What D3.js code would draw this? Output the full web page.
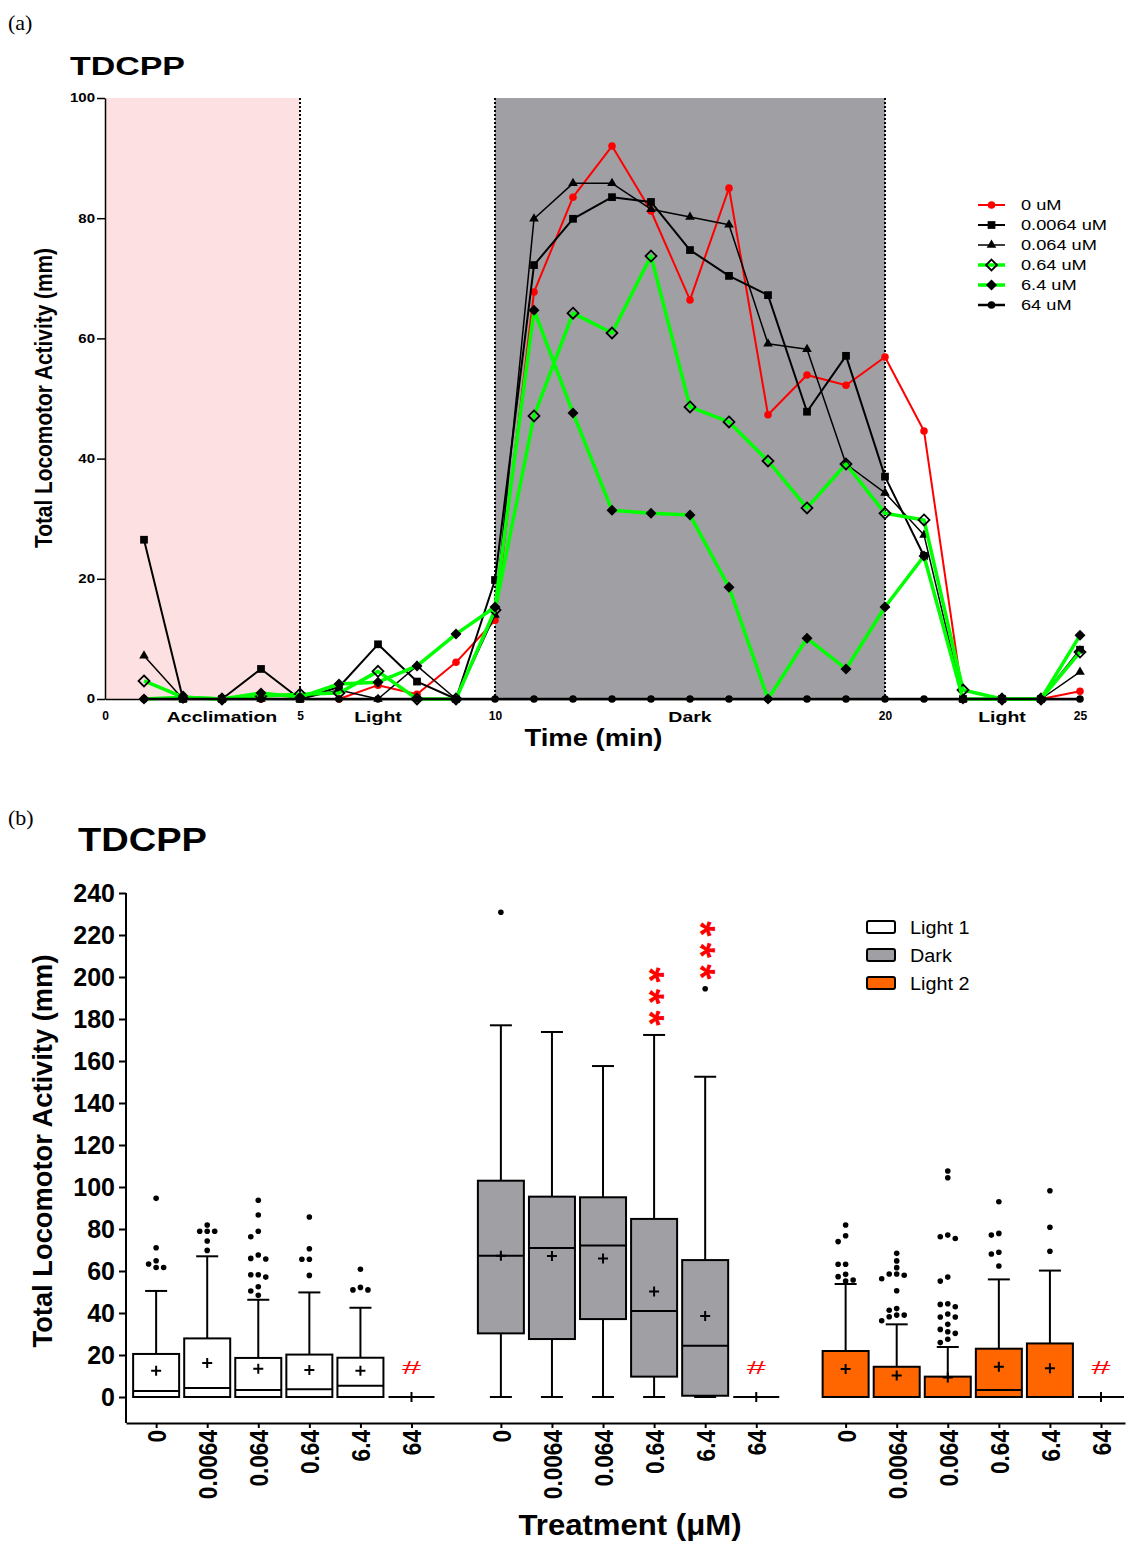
<!DOCTYPE html>
<html>
<head>
<meta charset="utf-8">
<script src="https://d3js.org/d3.v7.min.js"></script>
<style>
    body { margin: 0; background: white; }
    svg { font-family: "Liberation Sans", Arial, sans-serif; }
</style>
</head>
<body>
<div id="chart"></div>
<script>
    // ---------- panel (a): activity per minute ----------
    var minutes = [1, 2, 3, 4, 5, 6, 7, 8, 9, 10, 11, 12, 13, 14, 15, 16, 17, 18, 19, 20, 21, 22, 23, 24, 25];
    var act0uM = [0, 0, 0, 0, 0, 0, 2.3, 0.8, 6.1, 13.1, 67.7, 83.5, 92.0, 81.2, 66.4, 85.0, 47.3, 53.9, 52.2, 56.9, 44.6, 0, 0, 0, 1.3];
    var act00064uM = [26.5, 0, 0, 5.0, 0, 2.0, 9.1, 2.9, 0, 19.8, 72.2, 79.9, 83.5, 82.7, 74.7, 70.4, 67.2, 47.8, 57.1, 37.0, 23.8, 0, 0, 0, 8.2];
    var act0064uM = [7.2, 0, 0, 0, 0, 1.5, 0, 5.5, 0, 14.0, 79.9, 85.8, 85.8, 81.5, 80.2, 78.9, 59.1, 58.2, 39.1, 34.3, 27.3, 0, 0, 0, 4.5];
    var act064uM = [3.0, 0.3, 0, 0.5, 0.8, 1.0, 4.6, 0, 0, 14.8, 47.1, 64.2, 60.9, 73.7, 48.6, 46.1, 39.6, 31.8, 39.1, 30.9, 29.8, 1.5, 0, 0, 7.8];
    var act64uM = [0, 0.3, 0, 1.0, 0.3, 2.5, 2.8, 5.5, 10.8, 15.3, 64.7, 47.6, 31.4, 30.9, 30.6, 18.6, 0, 10.1, 5.0, 15.3, 23.8, 0, 0, 0, 10.6];
    var act640uM = [0, 0, 0, 0, 0, 0, 0, 0, 0, 0, 0, 0, 0, 0, 0, 0, 0, 0, 0, 0, 0, 0, 0, 0, 0];
    var seriesNames = ["0 uM", "0.0064 uM", "0.064 uM", "0.64 uM", "6.4 uM", "64 uM"];
    var phaseNames = ["Acclimation", "Light", "Dark", "Light"];
    var phaseLabelAt = [3, 7, 15, 23];
    var timeTicks = [0, 5, 10, 20, 25];
    var activityTicks = [0, 20, 40, 60, 80, 100];

    // ---------- panel (b): box plots ----------
    var treatments = ["0", "0.0064", "0.064", "0.64", "6.4", "64"];
    var periods = ["Light 1", "Dark", "Light 2"];
    // rows: [min, q1, median, q3, max, mean]
    var boxLight1 = [[0, 0, 2.9, 20.5, 50.5, 12.5], [0, 0, 4.3, 27.9, 67.0, 16.2], [0, 0, 3.3, 18.6, 46.3, 13.5],
                     [0, 0, 3.7, 20.2, 49.8, 12.9], [0, 0, 5.4, 18.7, 42.5, 12.5], [0, 0, 0, 0, 0, 0]];
    var boxDark = [[0, 30.3, 67.3, 103.0, 177.0, 67.3], [0, 27.6, 71.0, 95.4, 173.8, 67.1], [0, 37.1, 72.1, 95.1, 157.6, 65.9],
                   [0, 9.7, 40.9, 84.8, 172.4, 50.2], [0, 0.6, 24.4, 65.2, 152.5, 38.6], [0, 0, 0, 0, 0, 0]];
    var boxLight2 = [[0, 0, 0, 21.9, 53.8, 13.3], [0, 0, 0, 14.4, 34.6, 10.2], [0, 0, 0, 9.7, 23.8, 9.3],
                     [0, 0, 3.3, 23.0, 56.0, 14.4], [0, 0, 0, 25.5, 60.2, 13.7], [0, 0, 0, 0, 0, 0]];
    var outLight1 = [[94.6, 71.1, 64.9, 63.3, 61.7, 61.7], [81.9, 78.9, 78.9, 78.9, 74.3, 69.8],
                     [93.7, 86.7, 78.9, 76.3, 67.6, 66.0, 65.7, 58.2, 58.2, 57.1, 52.5, 50.5, 48.4],
                     [85.7, 70.6, 65.6, 65.6, 57.9], [60.8, 52.2, 51.0, 51.0], []];
    var outDark = [[230.8], [], [], [], [194.4], []];
    var outLight2 = [[81.9, 76.8, 74.0, 63.2, 63.2, 58.4, 57.3, 55.7, 55.2],
                     [68.4, 64.8, 61.6, 58.6, 58.6, 58.0, 56.3, 50.6, 42.1, 41.3, 39.0, 39.0, 38.2, 36.3],
                     [107.6, 104.4, 77.1, 76.3, 75.5, 57.1, 55.2, 44.4, 44.1, 43.0, 39.5, 38.1, 38.1, 34.6, 32.2, 31.1, 30.3, 27.5, 25.9],
                     [93.0, 77.9, 77.1, 68.9, 68.1, 62.4], [98.2, 80.8, 69.4], []];
    var marksLight1 = ["", "", "", "", "", "#"];
    var marksDark = ["", "", "", "***", "***", "#"];
    var marksLight2 = ["", "", "", "", "", "#"];
    var boxTicks = [0, 20, 40, 60, 80, 100, 120, 140, 160, 180, 200, 220, 240];

    var svg = d3.select("#chart").append("svg").attr("width", 1130).attr("height", 1544);

    function fit(sel, w) {
        sel.attr("textLength", w).attr("lengthAdjust", "spacingAndGlyphs");
    }
    function stretch(sel, k) {
        sel.each(function () {
            var w = this.getComputedTextLength();
            d3.select(this).attr("textLength", w * k).attr("lengthAdjust", "spacingAndGlyphs");
        });
    }

    // ================= panel (a) =================
    var xs = d3.scaleLinear().domain([0, 25]).range([105, 1080]);
    var ys = d3.scaleLinear().domain([0, 100]).range([699, 98]);
    var gA = svg.append("g");

    svg.append("text").attr("x", 8).attr("y", 30).text("(a)")
        .style("font-family", "'Liberation Serif', 'Times New Roman', serif").style("font-size", "22px");
    gA.append("text").attr("x", 70).attr("y", 75).text("TDCPP")
        .style("font-weight", "bold").style("font-size", "25px").call(fit, 115);

    // phase backgrounds
    gA.append("rect").attr("x", xs(0)).attr("y", ys(100)).attr("width", xs(5) - xs(0))
        .attr("height", ys(0) - ys(100)).attr("fill", "#fde0e1");
    gA.append("rect").attr("x", xs(10)).attr("y", ys(100)).attr("width", xs(20) - xs(10))
        .attr("height", ys(0) - ys(100)).attr("fill", "#a09fa4");
    [5, 10, 20].forEach(function (t) {
        gA.append("line").attr("x1", xs(t)).attr("x2", xs(t)).attr("y1", ys(100)).attr("y2", ys(0))
            .attr("stroke", "black").attr("stroke-width", 2).attr("stroke-dasharray", "2,2");
    });

    var yAxisA = d3.axisLeft(ys).tickValues(activityTicks).tickSize(8).tickSizeOuter(0).tickPadding(2);
    var gy = gA.append("g").attr("transform", "translate(" + xs(0) + ",0)").call(yAxisA);
    gy.selectAll("text").style("font-size", "12px").style("font-weight", "bold").call(stretch, 1.25);
    gy.selectAll("path, line").attr("stroke-width", 1.5);

    var xAxisA = d3.axisBottom(xs).tickValues(timeTicks).tickSize(0).tickPadding(12).tickSizeOuter(0);
    var gx = gA.append("g").attr("transform", "translate(0," + ys(0) + ")").call(xAxisA);
    gx.selectAll("text").style("font-size", "12px").style("font-weight", "bold");
    gx.select(".domain").attr("stroke-width", 1.5);

    gA.selectAll(".phase").data(phaseNames).enter().append("text")
        .attr("x", function (d, i) { return xs(phaseLabelAt[i]); })
        .attr("y", 722).attr("text-anchor", "middle")
        .style("font-size", "15px").style("font-weight", "bold")
        .text(function (d) { return d; }).call(stretch, 1.3);

    gA.append("text").attr("x", (xs(0) + xs(25)) / 2 + 1).attr("y", 746).attr("text-anchor", "middle")
        .style("font-size", "23px").style("font-weight", "bold").text("Time (min)").call(fit, 138);
    gA.append("text").attr("transform", "translate(52,398) rotate(-90)").attr("text-anchor", "middle")
        .style("font-size", "24px").style("font-weight", "bold").text("Total Locomotor Activity (mm)").call(fit, 300);

    var diamond = {
        draw: function (ctx, size) {
            var r = Math.sqrt(size / 2);
            ctx.moveTo(0, -r); ctx.lineTo(r, 0); ctx.lineTo(0, r); ctx.lineTo(-r, 0); ctx.closePath();
        }
    };
    var series = [act0uM, act00064uM, act0064uM, act064uM, act64uM, act640uM];
    var styles = [
        { color: "#ff0000", width: 2, symbol: d3.symbolCircle, size: 45, fill: "#ff0000", stroke: "none" },
        { color: "#000000", width: 2, symbol: d3.symbolSquare, size: 60, fill: "#000000", stroke: "none" },
        { color: "#000000", width: 1.5, symbol: d3.symbolTriangle, size: 40, fill: "#000000", stroke: "none" },
        { color: "#00ff00", width: 3.5, symbol: diamond, size: 60, fill: "none", stroke: "#000000" },
        { color: "#00ff00", width: 3.5, symbol: diamond, size: 60, fill: "#000000", stroke: "none" },
        { color: "#000000", width: 2.5, symbol: d3.symbolCircle, size: 45, fill: "#000000", stroke: "none" }
    ];

    var line = d3.line().x(function (d, i) { return xs(minutes[i]); }).y(function (d) { return ys(d); });
    series.forEach(function (s, k) {
        var st = styles[k];
        gA.append("path").attr("d", line(s)).attr("fill", "none")
            .attr("stroke", st.color).attr("stroke-width", st.width).attr("stroke-linejoin", "round");
        gA.selectAll(".m" + k).data(s).enter().append("path")
            .attr("transform", function (d, i) { return "translate(" + xs(minutes[i]) + "," + ys(d) + ")"; })
            .attr("d", d3.symbol().type(st.symbol).size(st.size))
            .attr("fill", st.fill).attr("stroke", st.stroke).attr("stroke-width", 1.8);
    });

    // legend (a)
    var legA = gA.append("g");
    seriesNames.forEach(function (name, k) {
        var st = styles[k];
        var ly = 205 + 20 * k;
        legA.append("line").attr("x1", 978).attr("x2", 1005).attr("y1", ly).attr("y2", ly)
            .attr("stroke", st.color).attr("stroke-width", st.width);
        legA.append("path").attr("transform", "translate(991.5," + ly + ")")
            .attr("d", d3.symbol().type(st.symbol).size(st.size))
            .attr("fill", st.fill).attr("stroke", st.stroke).attr("stroke-width", 1.8);
        legA.append("text").attr("x", 1021).attr("y", ly + 5).style("font-size", "14px")
            .text(name).call(stretch, 1.3);
    });

    // ================= panel (b) =================
    var gB = svg.append("g");
    svg.append("text").attr("x", 8).attr("y", 825).text("(b)")
        .style("font-family", "'Liberation Serif', 'Times New Roman', serif").style("font-size", "22px");
    gB.append("text").attr("x", 78).attr("y", 851).text("TDCPP")
        .style("font-weight", "bold").style("font-size", "34px").call(fit, 129);

    var groupStep = 6.75;
    var xb = d3.scaleLinear().domain([-0.59, 18.97]).range([126, 1125]);
    var yb = d3.scaleLinear().domain([0, 240]).range([1397, 893]);
    var axisY = 1423;
    var boxW = 46, capW = 22;
    var boxFill = ["#ffffff", "#a09fa4", "#ff6600"];
    var boxStats = [boxLight1, boxDark, boxLight2];
    var boxOut = [outLight1, outDark, outLight2];
    var boxMarks = [marksLight1, marksDark, marksLight2];

    var slots = [], slotLabels = [];
    periods.forEach(function (p, g) {
        treatments.forEach(function (t, i) { slots.push(g * groupStep + i); slotLabels.push(t); });
    });

    // axes
    var yAxisB = d3.axisLeft(yb).tickValues(boxTicks).tickSize(7).tickSizeOuter(0).tickPadding(4);
    var gyb = gB.append("g").attr("transform", "translate(" + xb.range()[0] + ",0)").call(yAxisB);
    gyb.select(".domain").remove();
    gyb.selectAll("line").attr("stroke-width", 2);
    gyb.selectAll("text").style("font-size", "25px").style("font-weight", "bold");
    gB.append("line").attr("x1", xb.range()[0]).attr("x2", xb.range()[0]).attr("y1", yb(240)).attr("y2", axisY)
        .attr("stroke", "black").attr("stroke-width", 2);

    var xAxisB = d3.axisBottom(xb).tickValues(slots).tickSize(5).tickSizeOuter(0)
        .tickFormat(function (d, i) { return slotLabels[i]; });
    var gxb = gB.append("g").attr("transform", "translate(0," + axisY + ")").call(xAxisB);
    gxb.select(".domain").attr("stroke-width", 2);
    gxb.selectAll("line").attr("stroke-width", 2);
    gxb.selectAll("text").attr("transform", "rotate(-90)").attr("x", -7).attr("y", 0).attr("dy", "0.36em")
        .style("text-anchor", "end").style("font-size", "26px").style("font-weight", "bold").call(stretch, 0.87);

    gB.append("text").attr("x", 630).attr("y", 1535).attr("text-anchor", "middle")
        .style("font-size", "30px").style("font-weight", "bold").text("Treatment (\u03bcM)").call(fit, 223);
    gB.append("text").attr("transform", "translate(52,1151) rotate(-90)").attr("text-anchor", "middle")
        .style("font-size", "27px").style("font-weight", "bold").text("Total Locomotor Activity (mm)").call(fit, 393);

    function dodge(values, cx) {
        var gap = 7.5, minDist = 6;
        var offsets = [0, -gap, gap, -2 * gap, 2 * gap, -3 * gap, 3 * gap];
        var placed = [];
        values.slice().sort(function (a, b) { return b - a; }).forEach(function (v) {
            var py = yb(v);
            for (var k = 0; k < offsets.length; k++) {
                var px = cx + offsets[k];
                var ok = placed.every(function (p) { return Math.abs(p.x - px) > 1 || Math.abs(p.y - py) >= minDist; });
                if (ok) { placed.push({ x: px, y: py }); break; }
            }
        });
        return placed;
    }

    periods.forEach(function (p, g) {
        boxStats[g].forEach(function (s, i) {
            var cx = xb(g * groupStep + i);
            var bx = gB.append("g");
            var mn = s[0], q1 = s[1], md = s[2], q3 = s[3], mx = s[4], mean = s[5];
            if (mx > q3) {
                bx.append("line").attr("x1", cx).attr("x2", cx).attr("y1", yb(q3)).attr("y2", yb(mx))
                    .attr("stroke", "black").attr("stroke-width", 2);
                bx.append("line").attr("x1", cx - capW / 2).attr("x2", cx + capW / 2).attr("y1", yb(mx)).attr("y2", yb(mx))
                    .attr("stroke", "black").attr("stroke-width", 2);
            }
            if (q1 > mn) {
                bx.append("line").attr("x1", cx).attr("x2", cx).attr("y1", yb(q1)).attr("y2", yb(mn))
                    .attr("stroke", "black").attr("stroke-width", 2);
                bx.append("line").attr("x1", cx - capW / 2).attr("x2", cx + capW / 2).attr("y1", yb(mn)).attr("y2", yb(mn))
                    .attr("stroke", "black").attr("stroke-width", 2);
            }
            bx.append("rect").attr("x", cx - boxW / 2).attr("y", yb(q3)).attr("width", boxW)
                .attr("height", yb(q1) - yb(q3)).attr("fill", boxFill[g]).attr("stroke", "black").attr("stroke-width", 2);
            bx.append("line").attr("x1", cx - boxW / 2).attr("x2", cx + boxW / 2).attr("y1", yb(md)).attr("y2", yb(md))
                .attr("stroke", "black").attr("stroke-width", 2);
            // mean +
            bx.append("path").attr("d", "M" + (cx - 5) + "," + yb(mean) + "H" + (cx + 5) + "M" + cx + "," + (yb(mean) - 5) + "V" + (yb(mean) + 5))
                .attr("stroke", "black").attr("stroke-width", 2);
            // outliers
            bx.selectAll("circle").data(dodge(boxOut[g][i], cx)).enter().append("circle")
                .attr("cx", function (d) { return d.x; }).attr("cy", function (d) { return d.y; })
                .attr("r", 2.8).attr("fill", "black");
            // significance marks
            var mark = boxMarks[g][i];
            if (mark === "#") {
                bx.append("text").attr("x", cx).attr("y", yb(0) - 29 + 6).attr("text-anchor", "middle")
                    .style("font-size", "18px").attr("fill", "#ff0000").text("#").call(fit, 19);
            } else if (mark.length) {
                // stacked asterisks as one vertical text run
                var top = d3.min([yb(mx)].concat(boxOut[g][i].map(function (v) { return yb(v); })));
                var midY = top - 19 - 21.5 * (mark.length - 1) / 2;
                bx.append("text").attr("transform", "translate(" + (cx + 2) + "," + (midY + 5) + ") rotate(90)")
                    .attr("text-anchor", "middle").attr("dy", "0.5em")
                    .style("font-size", "40px").style("font-weight", "bold").style("letter-spacing", "6px")
                    .attr("fill", "#ff0000").text(mark);
            }
        });
    });

    // legend (b)
    var legB = gB.append("g");
    periods.forEach(function (p, g) {
        var ly = 927 + 28 * g;
        legB.append("rect").attr("x", 867).attr("y", ly - 6).attr("width", 28).attr("height", 12).attr("rx", 2)
            .attr("fill", boxFill[g]).attr("stroke", "black").attr("stroke-width", 2);
        legB.append("text").attr("x", 910).attr("y", ly + 7).style("font-size", "18px").text(p).call(stretch, 1.1);
    });
</script>
</body>
</html>
